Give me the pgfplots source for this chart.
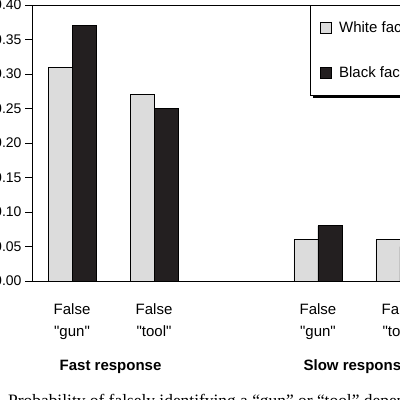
\documentclass[border=0pt]{standalone}
\usepackage{fontspec}
\setmainfont{Liberation Sans}
\newfontfamily\serifcap{Liberation Serif}
\usepackage{pgfplots}
\pgfplotsset{compat=1.18}
\usetikzlibrary{shadows}
\definecolor{lightbar}{HTML}{DCDCDC}
\definecolor{darkbar}{HTML}{231F20}

% the legend box has a drop shadow; keep it off the small squares inside
\makeatletter
\tikzset{no preactions/.code={\let\tikz@preactions\pgfutil@empty}}
\makeatother
\pgfplotsset{
  sqlegend/.style={legend image code/.code={\draw[no preactions,##1,line width=0.8pt] (0pt,-5.5pt) rectangle (11pt,5.5pt);}},
}
\newcommand{\q}{\textquotedbl}

\begin{document}
\begin{tikzpicture}
\useasboundingbox (0,0) rectangle (400pt,400pt);
\clip (0,0) rectangle (400pt,400pt);
\begin{axis}[
  at={(32pt,119pt)}, anchor=south west,
  scale only axis, width=408pt, height=276pt,
  xmin=-0.488, xmax=4.488, ymin=0, ymax=0.4,
  clip=false,
  ybar=0pt, bar width=24pt,
  axis line style={line width=0.9pt, black},
  xtick={0,1,3,4},
  xticklabels={{False\\\q gun\q},{False\\\q tool\q},{False\\\q gun\q},{False\\\q tool\q}},
  xticklabel style={align=center, font=\fontsize{15}{22}\selectfont, yshift=-12pt},
  xtick pos=bottom,
  major x tick style={draw=none},
  ytick={0,0.05,0.1,0.15,0.2,0.25,0.3,0.35,0.4},
  ytick pos=left, tick align=outside, major tick length=7pt,
  major y tick style={line width=0.9pt, black},
  yticklabel style={font=\fontsize{14}{16}\selectfont,
    /pgf/number format/fixed, /pgf/number format/fixed zerofill,
    /pgf/number format/precision=2, /pgf/number format/assume math mode=true},
  legend cell align=left,
  legend style={at={(0.681,1)}, anchor=north west, draw=black, line width=0.9pt,
    fill=white, drop shadow={shadow xshift=2.5pt, shadow yshift=-2.5pt, fill=black, opacity=1},
    inner xsep=10pt, inner ysep=14pt, row sep=29pt, column sep=5pt,
    font=\fontsize{15}{18}\selectfont},
]
\addplot[fill=lightbar, draw=black, line width=0.8pt, sqlegend] coordinates {
  (0,0.31) (1,0.27) (3,0.06) (4,0.06)
};
\addlegendentry{White faces}
\addplot[fill=darkbar, draw=black, line width=0.8pt, sqlegend] coordinates {
  (0,0.37) (1,0.25) (3,0.08) (4,0.05)
};
\addlegendentry{Black faces}
\node[font=\bfseries\fontsize{15}{18}\selectfont, anchor=base, yshift=-89pt] at (axis cs:0.47,0) {Fast response};
\node[font=\bfseries\fontsize{15}{18}\selectfont, anchor=base, yshift=-89pt] at (axis cs:3.47,0) {Slow response};
\end{axis}
\node[anchor=base west, inner sep=0pt, font=\serifcap\fontsize{17.4}{20}\selectfont] at (8pt,-6pt)
  {Probability of falsely identifying a “gun” or “tool” depending on};
\end{tikzpicture}
\end{document}
